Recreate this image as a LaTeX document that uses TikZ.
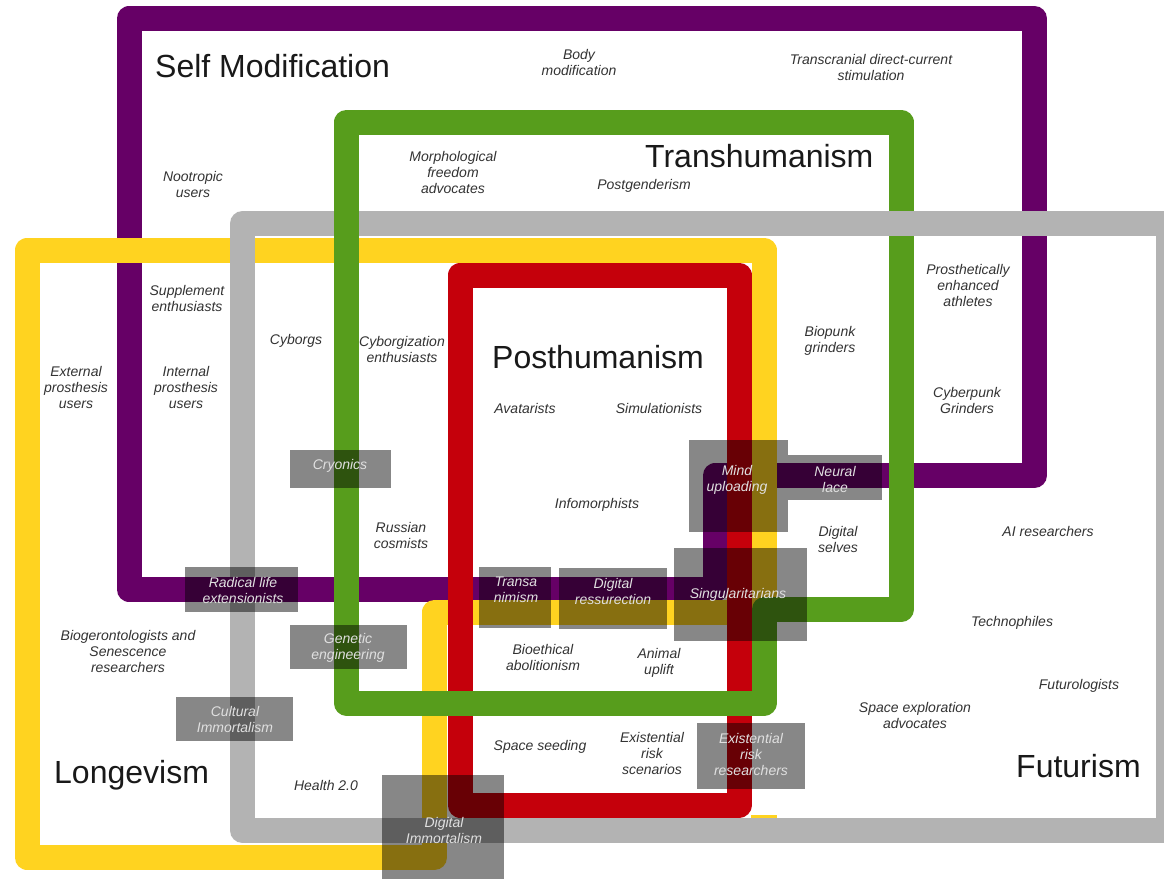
\documentclass[tikz,border=0pt]{standalone}
\usepackage{fontspec}
\setmainfont{Liberation Sans}

\definecolor{smpurple}{HTML}{660066}
\definecolor{thgreen}{HTML}{579D1C}
\definecolor{lgyellow}{HTML}{FFD320}
\definecolor{phred}{HTML}{C5000B}
\definecolor{fugray}{HTML}{B3B3B3}
\definecolor{lbltext}{HTML}{333333}

\tikzset{
  ring/.style={line width=25pt, line join=round},
  ttl/.style={font=\fontsize{32}{38}\selectfont, text=black!90, inner sep=0pt},
  lbl/.style={font=\itshape\fontsize{14}{16}\selectfont, text=lbltext, align=center, inner sep=0pt},
  boxfill/.style={fill=black, fill opacity=0.47},
  boxtxt/.style={lbl, text=white!88!black},
}

\begin{document}
\begin{tikzpicture}[x=1pt,y=-1pt]
        \useasboundingbox (0,0) rectangle (1164,879);
        \clip (0,0) rectangle (1164,879);
        \fill[white] (0,0) rectangle (1164,879);

        \coordinate (S1) at (129,18.5);
        \coordinate (S2) at (1034.5,18.5);
        \coordinate (S3) at (1034.5,475.5);
        \coordinate (S4) at (715,475.5);
        \coordinate (S5) at (715,589.5);
        \coordinate (S6) at (129,589.5);

        \coordinate (L1) at (27,250);
        \coordinate (L2) at (764,250);
        \coordinate (L3) at (764,612);
        \coordinate (L4) at (434.5,612);
        \coordinate (L5) at (434.5,857.5);
        \coordinate (L6) at (27,857.5);

        \coordinate (T1) at (346.5,122);
        \coordinate (T2) at (901,122);
        \coordinate (T3) at (901,609.5);
        \coordinate (T4) at (764,609.5);
        \coordinate (T5) at (764,703);
        \coordinate (T6) at (346.5,703);

        \coordinate (F1) at (242.5,223.5);
        \coordinate (F2) at (1168.5,830.5);
        \coordinate (P1) at (460,275);
        \coordinate (P2) at (739,805);

        \draw[ring, smpurple] (S1) -- (S2) -- (S3) -- (S4) -- (S5) -- (S6) -- cycle; % Self Modification
        \draw[ring, lgyellow] (L1) -- (L2) -- (L3) -- (L4) -- (L5) -- (L6) -- cycle; % Longevism
        \fill[lgyellow] (751,815) rectangle (777,825);
        \draw[ring, fugray] (F1) rectangle (F2);                                      % Futurism
        \draw[smpurple, line width=25pt] (215,589.5) -- (275,589.5);
        \draw[ring, phred] (P1) rectangle (P2);                                       % Posthumanism
        \draw[ring, thgreen] (T1) -- (T2) -- (T3) -- (T4) -- (T5) -- (T6) -- cycle;  % Transhumanism
        \draw[fugray, line width=25pt] (875,223.5) -- (930,223.5);

        % grey overlap boxes
        \fill[boxfill] (290,450) rectangle (391,488);
        \fill[boxfill] (185,567) rectangle (298,612);
        \fill[boxfill] (290,625) rectangle (407,669);
        \fill[boxfill] (176,697) rectangle (293,741);
        \fill[boxfill] (382,775) rectangle (504,879);
        \fill[boxfill] (479,567) rectangle (551,628);
        \fill[boxfill] (559,568) rectangle (667,629);
        \fill[boxfill] (689,440) rectangle (788,532);
        \fill[boxfill] (788,455) rectangle (882,500);
        \fill[boxfill] (674,548) rectangle (807,641);
        \fill[boxfill] (697,723) rectangle (805,789);

        \node[boxtxt] (cryo) at (340,466) {Cryonics};
        \node[boxtxt] (radical) at (243,590) {Radical life\\extensionists};
        \node[boxtxt] (genetic) at (348,648) {Genetic\\engineering};
        \node[boxtxt] (cultural) at (235,719) {Cultural\\Immortalism};
        \node[boxtxt] (digimm) at (444,830) {Digital\\Immortalism};
        \node[boxtxt] (transa) at (516,590) {Transa\\nimism};
        \node[boxtxt] (digres) at (613,591) {Digital\\ressurection};
        \node[boxtxt] (mindup) at (737,480) {Mind\\uploading};
        \node[boxtxt] (neural) at (835,479) {Neural\\lace};
        \node[boxtxt] (singul) at (738,595) {Singularitarians};
        \node[boxtxt] (exres) at (751,754) {Existential\\risk\\researchers};

        \node[ttl, anchor=base west] (selfmod) at (155,77) {Self Modification};
        \node[ttl, anchor=base west] (transhum) at (645,167) {Transhumanism};
        \node[ttl, anchor=base west] (posthum) at (492,368) {Posthumanism};
        \node[ttl, anchor=base west] (longev) at (54,783) {Longevism};
        \node[ttl, anchor=base west] (futur) at (1016,777) {Futurism};

        \node[lbl] (body) at (579,62) {Body\\modification};
        \node[lbl] (tdcs) at (871,67) {Transcranial direct-current\\stimulation};
        \node[lbl] (nootr) at (193,184) {Nootropic\\users};
        \node[lbl] (suppl) at (187,298) {Supplement\\enthusiasts};
        \node[lbl] (extpro) at (76,387) {External\\prosthesis\\users};
        \node[lbl] (intpro) at (186,387) {Internal\\prosthesis\\users};
        \node[lbl] (cyborgs) at (296,341) {Cyborgs};
        \node[lbl] (cybenth) at (402,349) {Cyborgization\\enthusiasts};
        \node[lbl] (morph) at (453,172) {Morphological\\freedom\\advocates};
        \node[lbl] (postgen) at (644,186) {Postgenderism};
        \node[lbl] (prosath) at (968,285) {Prosthetically\\enhanced\\athletes};
        \node[lbl] (biopunk) at (830,341) {Biopunk\\grinders};
        \node[lbl] (cyberpunk) at (967,400) {Cyberpunk\\Grinders};
        \node[lbl] (avatar) at (525,408) {Avatarists};
        \node[lbl] (simul) at (659,408) {Simulationists};
        \node[lbl] (infomorph) at (597,505) {Infomorphists};
        \node[lbl] (russian) at (401,535) {Russian\\cosmists};
        \node[lbl] (digself) at (838,539) {Digital\\selves};
        \node[lbl] (aires) at (1048,531) {AI researchers};
        \node[lbl] (techno) at (1012,623) {Technophiles};
        \node[lbl] (futuro) at (1079,686) {Futurologists};
        \node[lbl] (spaceexp) at (915,715) {Space exploration\\advocates};
        \node[lbl] (biogero) at (128,651) {Biogerontologists and\\Senescence\\researchers};
        \node[lbl] (bioeth) at (543,657) {Bioethical\\abolitionism};
        \node[lbl] (animal) at (659,663) {Animal\\uplift};
        \node[lbl] (spaceseed) at (540,747) {Space seeding};
        \node[lbl] (exscen) at (652,753) {Existential\\risk\\scenarios};
        \node[lbl] (health) at (326,785) {Health 2.0};

    \end{tikzpicture}
\end{document}
